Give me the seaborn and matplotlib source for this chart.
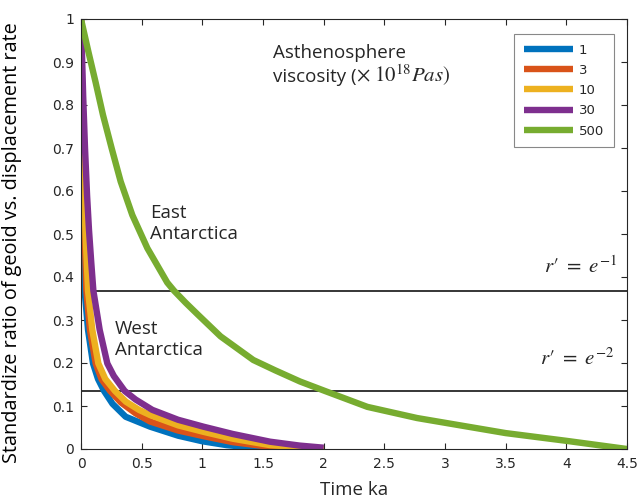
import numpy as np
import pandas as pd
import matplotlib
matplotlib.use("Agg")
import matplotlib.pyplot as plt
import seaborn as sns
from matplotlib.lines import Line2D

# ---- data ----
viscosities = ["1", "3", "10", "30", "500"]
colors = ["#0072BD", "#D95319", "#EDB120", "#7E2F8E", "#77AC30"]

x_1 = [0, 0.004, 0.01, 0.018, 0.03, 0.058, 0.099, 0.14, 0.19, 0.26, 0.368, 0.569, 0.8, 1.0, 1.2, 1.39, 1.6, 1.8, 2.0]
y_1 = [1, 0.85, 0.7, 0.55, 0.368, 0.277, 0.199, 0.163, 0.135, 0.105, 0.075, 0.052, 0.031, 0.018, 0.009, 0.004, 0.002, 0.001, 0.0]

x_3 = [0, 0.006, 0.014, 0.025, 0.044, 0.074, 0.121, 0.17, 0.24, 0.33, 0.45, 0.569, 0.8, 1.008, 1.25, 1.558, 1.8, 2.0]
y_3 = [1, 0.85, 0.7, 0.55, 0.368, 0.277, 0.199, 0.162, 0.135, 0.108, 0.083, 0.064, 0.043, 0.030, 0.016, 0.005, 0.002, 0.0]

x_10 = [0, 0.008, 0.017, 0.03, 0.058, 0.093, 0.143, 0.2, 0.28, 0.37, 0.478, 0.569, 0.8, 1.008, 1.25, 1.558, 1.8, 2.0]
y_10 = [1, 0.85, 0.7, 0.55, 0.368, 0.277, 0.199, 0.163, 0.135, 0.11, 0.091, 0.079, 0.055, 0.040, 0.024, 0.009, 0.004, 0.001]

x_30 = [0, 0.008, 0.018, 0.033, 0.05, 0.066, 0.085, 0.102, 0.154, 0.217, 0.27, 0.36, 0.45, 0.588, 0.8, 1.008, 1.25, 1.558, 1.8, 2.0]
y_30 = [1, 0.92, 0.82, 0.7, 0.59, 0.509, 0.432, 0.368, 0.277, 0.199, 0.17, 0.135, 0.115, 0.091, 0.068, 0.052, 0.035, 0.017, 0.008, 0.003]

x_500 = [0, 0.06, 0.121, 0.181, 0.253, 0.327, 0.423, 0.547, 0.711, 0.767, 0.863, 0.965, 1.15, 1.42, 1.6, 1.805, 2.01, 2.36, 2.77, 3.5, 4.0, 4.5]
y_500 = [1, 0.925, 0.852, 0.777, 0.699, 0.622, 0.544, 0.467, 0.387, 0.368, 0.34, 0.312, 0.262, 0.207, 0.183, 0.157, 0.135, 0.098, 0.072, 0.037, 0.019, 0.0]

ref_levels = [np.exp(-1), np.exp(-2)]
ref_labels = [r"$r\prime\ =\ e^{-1}$", r"$r\prime\ =\ e^{-2}$"]

xticks = [0, 0.5, 1, 1.5, 2, 2.5, 3, 3.5, 4, 4.5]
xtick_labels = ["0", "0.5", "1", "1.5", "2", "2.5", "3", "3.5", "4", "4.5"]
yticks = [0, 0.1, 0.2, 0.3, 0.4, 0.5, 0.6, 0.7, 0.8, 0.9, 1]
ytick_labels = ["0", "0.1", "0.2", "0.3", "0.4", "0.5", "0.6", "0.7", "0.8", "0.9", "1"]

series_x = [x_1, x_3, x_10, x_30, x_500]
series_y = [y_1, y_3, y_10, y_30, y_500]

frames = []
for v, xs, ys in zip(viscosities, series_x, series_y):
    frames.append(pd.DataFrame({"t": xs, "r": ys, "visc": v}))
df = pd.concat(frames, ignore_index=True)

# ---- style ----
sns.set_style("ticks")
plt.rcParams["font.family"] = ["Open Sans", "DejaVu Sans"]
plt.rcParams["mathtext.fontset"] = "stix"
axc = "#262626"
LW = 4.6

fig = plt.figure(figsize=(6.41, 4.99), dpi=100)
ax = fig.add_axes([81 / 641, 1 - 449 / 499, (627 - 81) / 641, (449 - 19) / 499])

sns.lineplot(data=df, x="t", y="r", hue="visc", hue_order=viscosities,
             palette=colors, sort=False, estimator=None, units="visc",
             linewidth=LW, ax=ax, legend=False)
for ln in ax.get_lines():
    ln.set_solid_capstyle("butt")
    ln.set_solid_joinstyle("round")

for lvl in ref_levels:
    ax.axhline(lvl, color="black", linewidth=1.1, zorder=1)

ax.set_xlim(0, 4.5)
ax.set_ylim(0, 1)
ax.set_xticks(xticks)
ax.set_xticklabels(xtick_labels, family=["DejaVu Sans"], fontsize=10, color=axc)
ax.set_yticks(yticks)
ax.set_yticklabels(ytick_labels, family=["DejaVu Sans"], fontsize=10, color=axc)
ax.tick_params(direction="in", top=True, right=True, length=4, width=0.8, colors=axc)
ax.tick_params(axis="x", pad=6)
ax.tick_params(axis="y", pad=5)
for s in ax.spines.values():
    s.set_visible(True)
    s.set_color(axc)
    s.set_linewidth(0.8)

ax.set_xlabel("Time ka", fontsize=13.5, color=axc, labelpad=7)
ax.set_ylabel("Standardize ratio of geoid vs. displacement rate", fontsize=14.3,
              color="black")
ax.yaxis.set_label_coords(-0.108, 0.48)

# annotations
ax.text(1.58, 0.909, "Asthenosphere", fontsize=13.5, va="baseline", ha="left")
ax.text(1.58, 0.854, "viscosity (", fontsize=13.5, va="baseline", ha="left")
ax.text(2.265, 0.854, r"$\times\ 10^{18}Pas)$", fontsize=15, va="baseline", ha="left")
ax.text(0.57, 0.57, "East\nAntarctica", fontsize=13.5, va="top", ha="left", linespacing=1.2)
ax.text(0.28, 0.30, "West\nAntarctica", fontsize=13.5, va="top", ha="left", linespacing=1.2)
ax.text(4.42, 0.398, ref_labels[0], fontsize=15, ha="right", va="bottom")
ax.text(4.39, 0.184, ref_labels[1], fontsize=15, ha="right", va="bottom")

handles = [Line2D([], [], color=c, linewidth=LW, solid_capstyle="butt") for c in colors]
leg = ax.legend(handles, viscosities, loc="upper right", bbox_to_anchor=(0.976, 0.966),
                handlelength=3.7, labelspacing=0.55, borderpad=0.75,
                handletextpad=0.45, borderaxespad=0, fancybox=False, framealpha=1,
                edgecolor="#888888", prop={"family": "DejaVu Sans", "size": 9.5})
leg.get_frame().set_linewidth(0.8)

fig.savefig("out.png", dpi=100)
